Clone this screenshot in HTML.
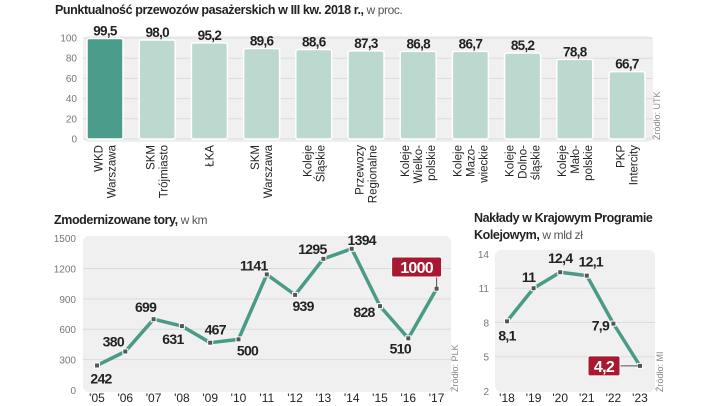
<!DOCTYPE html>
<html><head><meta charset="utf-8"><style>
body{margin:0;background:#fff;width:720px;height:406px;overflow:hidden;font-family:"Liberation Sans",sans-serif}
svg{display:block}
.t{font-family:"Liberation Sans Narrow","Liberation Sans",sans-serif;font-weight:bold;fill:#222;letter-spacing:-0.7px}
.tick{font-size:10px;fill:#777;font-family:"Liberation Sans",sans-serif}
.cat{font-size:11.5px;fill:#222;font-family:"Liberation Sans",sans-serif}
.yr{font-size:12px;fill:#222;font-family:"Liberation Sans",sans-serif}
</style></head><body>
<svg id="s" width="720" height="406">
<text x="55" y="14" font-size="12.5" class="t" style="letter-spacing:-0.4px">Punktualność przewozów pasażerskich w III kw. 2018 r.,<tspan font-weight="normal" fill="#555" font-family="Liberation Sans" font-size="12"> w proc.</tspan></text>
<rect x="83" y="36" width="570" height="106" rx="6" fill="#f0f0f0"/>
<text x="660" y="140" font-size="9" fill="#888" transform="rotate(-90 660 140)">Źródło: UTK</text>
<text x="54" y="224" font-size="12.5" class="t" style="letter-spacing:-0.4px">Zmodernizowane tory,<tspan font-weight="normal" fill="#555" font-family="Liberation Sans" font-size="12"> w km</tspan></text>
<rect x="83" y="236" width="368" height="156" rx="6" fill="#f0f0f0"/>
<text x="458" y="392" font-size="9" fill="#888" transform="rotate(-90 458 392)">Źródło: PLK</text>
<text x="474" y="222" font-size="12.5" class="t" style="letter-spacing:-0.4px">Nakłady w Krajowym Programie</text>
<text x="474" y="239" font-size="12.5" class="t" style="letter-spacing:-0.4px">Kolejowym,<tspan font-weight="normal" fill="#555" font-family="Liberation Sans" font-size="12"> w mld zł</tspan></text>
<rect x="495" y="250" width="160" height="142" rx="6" fill="#f0f0f0"/>
<text x="663" y="392" font-size="9" fill="#888" transform="rotate(-90 663 392)">Źródło: MI</text>
</svg>
<script>
const barCats=[["WKD","Warszawa"],["SKM","Trójmiasto"],["ŁKA"],["SKM","Warszawa"],["Koleje","Śląskie"],["Przewozy","Regionalne"],["Koleje","Wielko-","polskie"],["Koleje","Mazo-","wieckie"],["Koleje","Dolno-","śląskie"],["Koleje","Mało-","polskie"],["PKP","Intercity"]];
const barVals=[99.5,98.0,95.2,89.6,88.6,87.3,86.8,86.7,85.2,78.8,66.7];
const barTicks=[0,20,40,60,80,100];
const trackYears=["'05","'06","'07","'08","'09","'10","'11","'12","'13","'14","'15","'16","'17"];
const trackVals=[242,380,699,631,467,500,1141,939,1295,1394,828,510,1000];
const trackTicks=[0,300,600,900,1200,1500];
const fundYears=["'18","'19","'20","'21","'22","'23"];
const fundVals=[8.1,11,12.4,12.1,7.9,4.2];
const fundTicks=[2,5,8,11,14];

const svg=document.getElementById('s');const NS='http://www.w3.org/2000/svg';
function mk(tag,at,txt){const e=document.createElementNS(NS,tag);for(const k in at)e.setAttribute(k,at[k]);if(txt!==undefined)e.textContent=txt;svg.appendChild(e);return e;}
const fmt=v=>v.toFixed(1).replace('.',',');
const teal='#4a9a88',red='#a71930';

// bar chart
const by=v=>139-v*1.01, bx=i=>105+i*52.2;
barTicks.forEach(t=>{
  const g=mk('line',{x1:83,x2:653,y1:by(t),y2:by(t),stroke:'#dcdcdc','stroke-width':1});
  
  
  const l=mk('text',{x:77,y:by(t)+3.5,'text-anchor':'end',class:'tick'},t);
  
  
});
barVals.forEach((v,i)=>{
  const r=mk('rect',{x:bx(i)-18,y:by(v),width:36,height:by(0)-by(v),rx:2,fill:i===0?'#4b9c8a':'#bcd9cf',stroke:'#fff','stroke-width':1.5});
  
  
  const t=mk('text',{x:bx(i),y:by(v)-3,'text-anchor':'middle','font-size':13.5,class:'t'},fmt(v));
  
  
  const lines=barCats[i],n=lines.length;
  lines.forEach((s,j)=>{
    const x=bx(i)+(j-(n-1)/2)*13+4;
    const c=mk('text',{x:x,y:145,'text-anchor':'end',class:'cat',transform:`rotate(-90 ${x} 145)`},s);
    
    
  });
});

// tracks line chart
const tx=i=>97+i*28.3, ty=v=>390-v*0.1013;
trackTicks.forEach(t=>{
  if(t>0&&t<1500){const g=mk('line',{x1:83,x2:451,y1:ty(t),y2:ty(t),stroke:'#dcdcdc'});
  
  }
  const l=mk('text',{x:76,y:ty(t)+4,'text-anchor':'end',class:'tick'},t);
  
  
});
trackYears.forEach((y,i)=>{const l=mk('text',{x:tx(i),y:402,'text-anchor':'middle',class:'yr'},y);
  
  });
const tl=mk('polyline',{points:trackVals.map((v,i)=>tx(i)+','+ty(v)).join(' '),fill:'none',stroke:teal,'stroke-width':3.5,'stroke-linejoin':'round'});


const tOff=[[4,13],[-12,-10],[-8,-12],[-9,13],[5,-13],[9,11],[-13,-9],[8,11],[-11,-10],[10,-9],[-16,6],[-8,10]];
trackVals.forEach((v,i)=>{
  const p=mk('rect',{x:tx(i)-2.5,y:ty(v)-2.5,width:5,height:5,fill:'#555',stroke:'#fff','stroke-width':1});
  
  
  if(i<tOff.length){const l=mk('text',{x:tx(i)+tOff[i][0],y:ty(v)+tOff[i][1]+5,'text-anchor':'middle','font-size':14,class:'t'},v);
  
  }
});
{const i=trackVals.length-1,v=trackVals[i];
 const ln=mk('line',{x1:tx(i),x2:tx(i),y1:277,y2:ty(v),stroke:'#555'});
 
 
 const b=mk('rect',{x:tx(i)-45,y:257,width:50,height:20,rx:2,fill:red,stroke:'#fff','stroke-width':1});
 
 
 const t=mk('text',{x:tx(i)-20,y:273,'text-anchor':'middle','font-size':16,class:'t',style:'fill:#fff'},v);
 
 }

// funding line chart
const fx=i=>507+i*26.6, fy=v=>391-(v-2)*11.42;
fundTicks.forEach(t=>{
  if(t>2&&t<14){const g=mk('line',{x1:495,x2:655,y1:fy(t),y2:fy(t),stroke:'#dcdcdc'});
  
  }
  const l=mk('text',{x:489,y:fy(t)+4,'text-anchor':'end',class:'tick'},t);
  
  
});
fundYears.forEach((y,i)=>{const l=mk('text',{x:fx(i),y:402,'text-anchor':'middle',class:'yr'},y);
  
  });
const fl=mk('polyline',{points:fundVals.map((v,i)=>fx(i)+','+fy(v)).join(' '),fill:'none',stroke:teal,'stroke-width':3.5,'stroke-linejoin':'round'});


const fOff=[[0,14],[-5,-11],[0,-14],[4,-14],[-13,2]];
fundVals.forEach((v,i)=>{
  const p=mk('rect',{x:fx(i)-2.5,y:fy(v)-2.5,width:5,height:5,fill:'#555',stroke:'#fff','stroke-width':1});
  
  
  if(i<fOff.length){const l=mk('text',{x:fx(i)+fOff[i][0],y:fy(v)+fOff[i][1]+5,'text-anchor':'middle','font-size':14,class:'t'},String(v).replace('.',','));
  
  }
});
{const i=fundVals.length-1,v=fundVals[i];
 const ln=mk('line',{x1:620,x2:fx(i),y1:fy(v),y2:fy(v),stroke:'#555'});
 
 
 const b=mk('rect',{x:588,y:fy(v)-10,width:32,height:20,rx:2,fill:red,stroke:'#fff','stroke-width':1});
 
 
 const t=mk('text',{x:604,y:fy(v)+6,'text-anchor':'middle','font-size':16,class:'t',style:'fill:#fff'},String(v).replace('.',','));
 
 }
</script>
</body></html>
